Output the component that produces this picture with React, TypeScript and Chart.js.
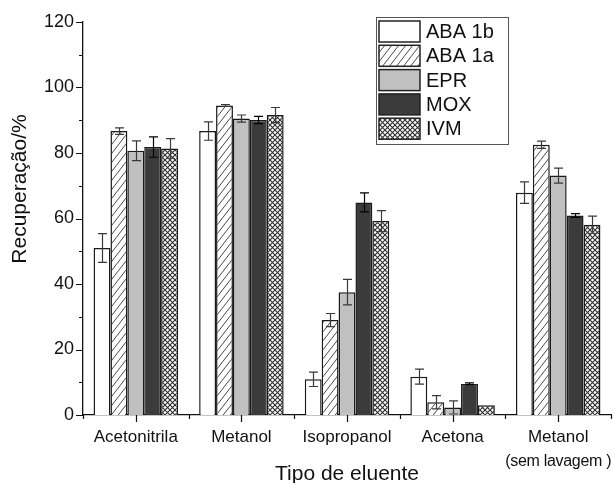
import React, { useEffect, useRef } from 'react';
import { Chart, registerables } from 'chart.js';

Chart.register(...registerables);

// Eluent types on the x axis
const categories: (string | string[])[] = [
  'Acetonitrila',
  'Metanol',
  'Isopropanol',
  'Acetona',
  ['Metanol', '(sem lavagem )'],
];

const seriesNames = ['ABA 1b', 'ABA 1a', 'EPR', 'MOX', 'IVM'];

// Mean recovery (%) per eluent
const aba1b = [51.0, 86.7, 10.9, 11.7, 67.9];
const aba1a = [86.7, 94.5, 29.0, 3.9, 82.5];
const epr = [80.7, 90.5, 37.5, 2.3, 73.1];
const mox = [81.8, 90.1, 64.9, 9.5, 60.9];
const ivm = [81.4, 91.6, 59.2, 3.0, 58.1];

// Standard deviations
const aba1bErr = [4.4, 2.8, 2.2, 2.3, 3.3];
const aba1aErr = [1.0, 0.3, 2.0, 2.0, 1.1];
const eprErr = [3.0, 1.1, 3.9, 2.0, 2.3];
const moxErr = [3.1, 1.1, 2.9, 0.3, 0.6];
const ivmErr = [3.0, 2.3, 3.2, 0, 2.6];

const yMajorTicks = [0, 20, 40, 60, 80, 100, 120];
const yMinorTicks = [10, 30, 50, 70, 90, 110];

const FONT = "'Liberation Sans', Arial, sans-serif";

function makeHatch(): CanvasPattern {
  const w = 7;
  const h = 9;
  const c = document.createElement('canvas');
  c.width = w;
  c.height = h;
  const g = c.getContext('2d')!;
  g.fillStyle = '#ffffff';
  g.fillRect(0, 0, w, h);
  g.strokeStyle = '#4a4a4a';
  g.lineWidth = 1;
  g.beginPath();
  for (let k = -1; k <= 1; k++) {
    g.moveTo(k * w, h);
    g.lineTo(k * w + w, 0);
  }
  g.stroke();
  return g.createPattern(c, 'repeat')!;
}

function makeCrossHatch(): CanvasPattern {
  const s = 5;
  const c = document.createElement('canvas');
  c.width = s;
  c.height = s;
  const g = c.getContext('2d')!;
  g.fillStyle = '#ffffff';
  g.fillRect(0, 0, s, s);
  g.strokeStyle = '#2e2e2e';
  g.lineWidth = 1.1;
  g.beginPath();
  g.moveTo(0, 0);
  g.lineTo(s, s);
  g.moveTo(s, 0);
  g.lineTo(0, s);
  g.stroke();
  return g.createPattern(c, 'repeat')!;
}

export default function App() {
  const canvasRef = useRef<HTMLCanvasElement | null>(null);

  useEffect(() => {
    const canvas = canvasRef.current;
    if (!canvas) return;

    const values = [aba1b, aba1a, epr, mox, ivm];
    const errors = [aba1bErr, aba1aErr, eprErr, moxErr, ivmErr];
    const fills: (string | CanvasPattern)[] = [
      '#ffffff',
      makeHatch(),
      '#c0c0c0',
      '#3b3b3b',
      makeCrossHatch(),
    ];

    const errorBars = {
      id: 'errorBars',
      afterDatasetsDraw(chart: any) {
        const { ctx } = chart;
        const y = chart.scales.y;
        ctx.save();
        ctx.lineWidth = 1.2;
        chart.data.datasets.forEach((ds: any, di: number) => {
          const meta = chart.getDatasetMeta(di);
          ctx.strokeStyle = di === 3 ? '#000000' : '#3a3a3a';
          meta.data.forEach((bar: any, i: number) => {
            const e = errors[di][i];
            if (!e) return;
            const v = ds.data[i] as number;
            const x = Math.round(bar.x) + 0.5;
            const yt = y.getPixelForValue(v + e);
            const yb = y.getPixelForValue(v - e);
            const cap = 4.5;
            ctx.beginPath();
            ctx.moveTo(x, yt);
            ctx.lineTo(x, yb);
            ctx.moveTo(x - cap, yt);
            ctx.lineTo(x + cap, yt);
            ctx.moveTo(x - cap, yb);
            ctx.lineTo(x + cap, yb);
            ctx.stroke();
          });
        });
        ctx.restore();
      },
    };

    const axisMarks = {
      id: 'axisMarks',
      afterDraw(chart: any) {
        const { ctx, chartArea } = chart;
        const xs = chart.scales.x;
        const ys = chart.scales.y;
        ctx.save();
        ctx.strokeStyle = '#111111';
        ctx.lineWidth = 1.2;
        ctx.beginPath();
        yMajorTicks.forEach((v) => {
          const py = Math.round(ys.getPixelForValue(v)) + 0.5;
          ctx.moveTo(chartArea.left - 7, py);
          ctx.lineTo(chartArea.left, py);
        });
        yMinorTicks.forEach((v) => {
          const py = Math.round(ys.getPixelForValue(v)) + 0.5;
          ctx.moveTo(chartArea.left - 4, py);
          ctx.lineTo(chartArea.left, py);
        });
        const n = categories.length;
        for (let i = 0; i < n; i++) {
          const px = Math.round(xs.getPixelForValue(i)) + 0.5;
          ctx.moveTo(px, chartArea.bottom);
          ctx.lineTo(px, chartArea.bottom + 7);
        }
        for (let i = 0; i <= n; i++) {
          const px = Math.round(xs.getPixelForValue(i - 0.5)) + 0.5;
          ctx.moveTo(px, chartArea.bottom);
          ctx.lineTo(px, chartArea.bottom + 4);
        }
        ctx.stroke();

        // second lines of multi-line category labels, set a little tighter
        ctx.fillStyle = '#111111';
        ctx.font = `16px ${FONT}`;
        ctx.textAlign = 'center';
        ctx.textBaseline = 'middle';
        (ctx as any).letterSpacing = '-0.3px';
        categories.forEach((c, i) => {
          if (Array.isArray(c)) {
            c.slice(1).forEach((line, k) => {
              ctx.fillText(line, xs.getPixelForValue(i), 462 + k * 22);
            });
          }
        });
        (ctx as any).letterSpacing = '0px';

        // vertical axis title
        ctx.font = `21px ${FONT}`;
        ctx.translate(20, 189);
        ctx.rotate(-Math.PI / 2);
        ctx.fillText('Recuperação/%', 0, 0);
        ctx.restore();
      },
    };

    const boxLegend = {
      id: 'boxLegend',
      afterDraw(chart: any) {
        const { ctx } = chart;
        const left = 376;
        const top = 17;
        const right = 508;
        const bottom = 144;
        ctx.save();
        ctx.fillStyle = '#ffffff';
        ctx.fillRect(left, top, right - left, bottom - top);
        ctx.strokeStyle = '#555555';
        ctx.lineWidth = 1;
        ctx.strokeRect(left + 0.5, top + 0.5, right - left, bottom - top);
        ctx.font = `20px ${FONT}`;
        ctx.textAlign = 'left';
        ctx.textBaseline = 'middle';
        chart.data.datasets.forEach((ds: any, i: number) => {
          const ry = top + 4 + i * 24.3;
          ctx.fillStyle = ds.backgroundColor;
          ctx.fillRect(left + 3, ry, 41, 21);
          ctx.strokeStyle = '#222222';
          ctx.lineWidth = 1.5;
          ctx.strokeRect(left + 3, ry, 41, 21);
          ctx.fillStyle = '#111111';
          ctx.fillText(ds.label, 426, ry + 11.5);
        });
        ctx.restore();
      },
    };

    const chart = new Chart(canvas, {
      type: 'bar',
      data: {
        labels: categories,
        datasets: seriesNames.map((name, i) => ({
          label: name,
          data: values[i],
          backgroundColor: fills[i] as any,
          borderColor: '#1a1a1a',
          borderWidth: 1.5,
          categoryPercentage: 0.8,
          barPercentage: 1,
        })),
      },
      options: {
        responsive: false,
        animation: false,
        layout: { padding: { left: 0, right: 3, top: 22, bottom: 0 } },
        plugins: {
          legend: { display: false },
          tooltip: { enabled: false },
        },
        scales: {
          x: {
            type: 'category',
            offset: true,
            grid: { display: false, drawTicks: false, tickLength: 0 },
            border: { display: true, color: '#111111', width: 1.3 },
            ticks: {
              color: '#111111',
              padding: 12,
              maxRotation: 0,
              autoSkip: false,
              font: { family: FONT, size: 17, lineHeight: 1.2 },
              callback(value: any, index: number) {
                const c = categories[index];
                return Array.isArray(c) ? c[0] : c;
              },
            },
            title: {
              display: true,
              text: 'Tipo de eluente',
              color: '#111111',
              font: { family: FONT, size: 21, lineHeight: 1.2 },
              padding: { top: 0, bottom: -4 },
            },
            afterFit(scale: any) {
              scale.height = 68;
              scale.paddingLeft = 0;
              scale.paddingRight = 0;
            },
          },
          y: {
            min: 0,
            max: 120,
            grid: { display: false, drawTicks: false, tickLength: 0 },
            border: { display: true, color: '#111111', width: 1.3 },
            ticks: {
              stepSize: 20,
              color: '#111111',
              padding: 9,
              font: { family: FONT, size: 18 },
            },
            afterFit(scale: any) {
              scale.width = 83;
              scale.paddingTop = 0;
              scale.paddingBottom = 0;
            },
          },
        },
      },
      plugins: [errorBars, axisMarks, boxLegend],
    });

    return () => chart.destroy();
  }, []);

  return (
    <div style={{ position: 'fixed', left: 0, top: 0, width: 614, height: 483, background: '#ffffff' }}>
      <canvas ref={canvasRef} width={614} height={483} style={{ width: 614, height: 483, display: 'block' }} />
    </div>
  );
}
